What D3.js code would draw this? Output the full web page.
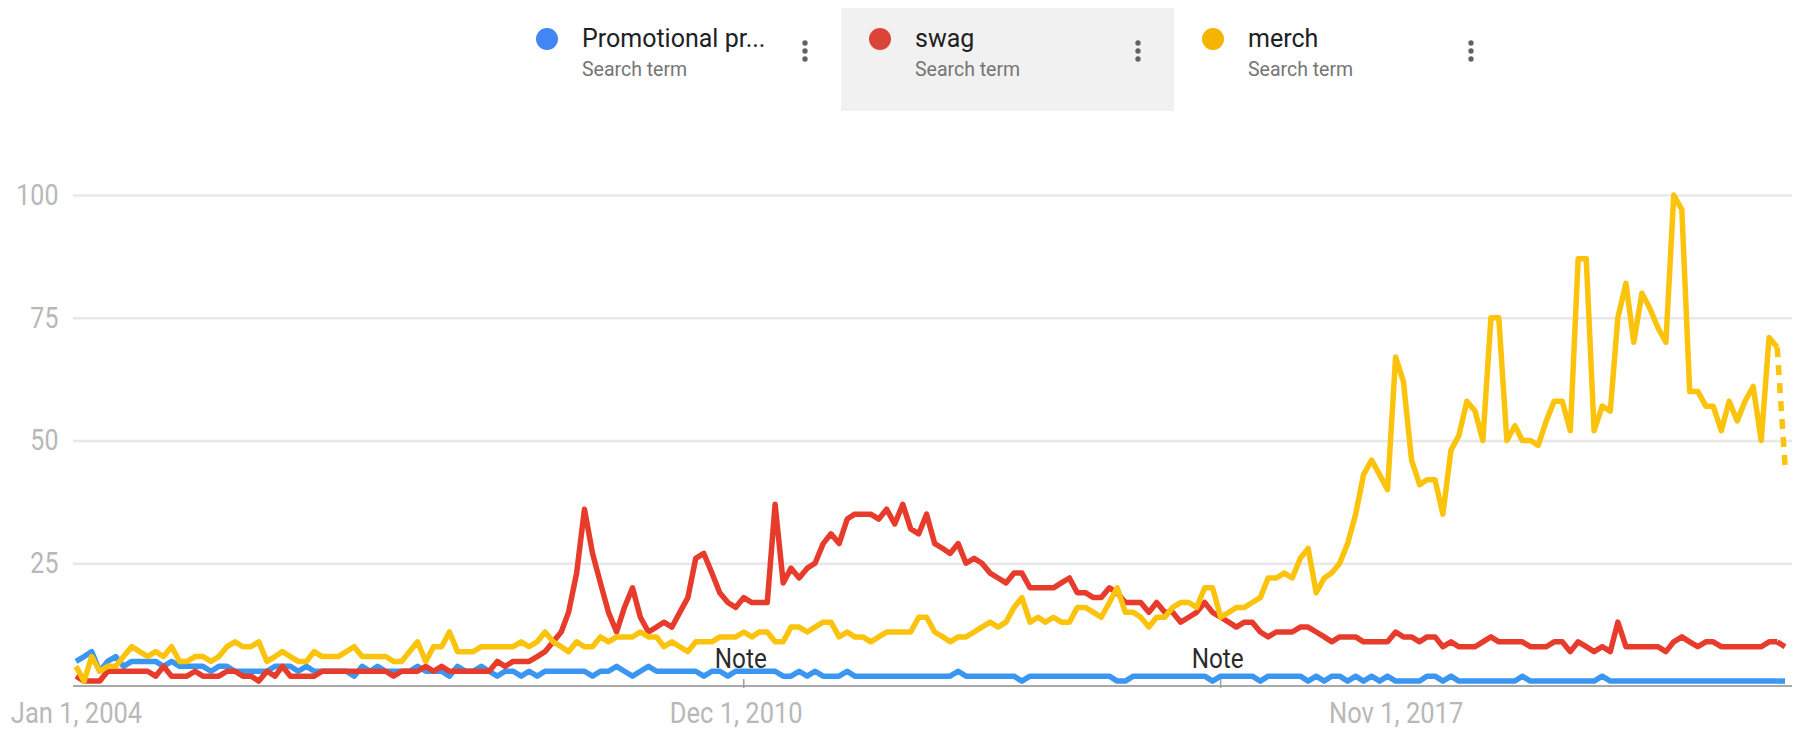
<!DOCTYPE html>
<html>
<head>
<meta charset="utf-8">
<script src="https://cdn.jsdelivr.net/npm/d3@7"></script>
<style>
  body { margin: 0; background: #fff; }
  #chart { width: 1801px; height: 733px; }
  text { font-family: Roboto, "Open Sans", sans-serif; }
</style>
</head>
<body>
<div id="chart"></div>
<script>
// monthly interest, Jan 2004 .. Dec 2021 (last month is partial -> dotted)
var startMonth = new Date(2004, 0, 1);

var seriesNames = ["Promotional pr...", "swag", "merch"];
var seriesSub = "Search term";
var legendColors = ["#4285f4", "#db4437", "#f4b400"];
var lineColors = ["#3b96f2", "#e73b2c", "#fbc30c"];

var promoValues = [
  5,6,7,3,5,6,4,5,5,5,5,4,5,4,4,4,4,3,4,4,3,3,3,3,3,4,4,
  4,3,4,3,3,3,3,3,2,4,3,4,3,3,3,3,4,3,3,3,2,4,3,3,4,3,
  2,3,3,2,3,2,3,3,3,3,3,3,2,3,3,4,3,2,3,4,3,3,3,3,3,3,2,
  3,3,2,3,3,3,3,3,3,2,2,3,2,3,2,2,2,3,2,2,2,2,2,2,2,2,2,2,2,
  2,2,3,2,2,2,2,2,2,2,1,2,2,2,2,2,2,2,2,2,2,2,1,1,2,2,2,2,2,2,2,2,2,2,1,2,
  2,2,2,2,1,2,2,2,2,2,1,2,1,2,2,1,2,1,2,1,2,1,1,1,1,2,2,1,2,1,1,1,1,1,1,1,1,2,1,1,1,1,1,
  1,1,1,1,2,1,1,1,1,1,1,1,1,1,1,1,1,1,1,1,1,1,1,1,1,1,1,1
];

var swagValues = [
  2,1,1,1,3,3,3,3,3,3,2,4,2,2,2,3,2,2,2,3,3,2,2,1,3,2,4,
  2,2,2,2,3,3,3,3,3,3,3,3,3,2,3,3,3,4,3,4,3,3,3,3,3,3,
  5,4,5,5,5,6,7,9,11,15,23,36,27,21,15,11,16,20,14,11,12,13,12,15,18,26,27,
  23,19,17,16,18,17,17,17,37,21,24,22,24,25,29,31,29,34,35,35,35,34,36,33,37,32,31,35,29,
  28,27,29,25,26,25,23,22,21,23,23,20,20,20,20,21,22,19,19,18,18,20,19,17,17,17,15,
  17,15,15,13,14,15,17,15,14,13,12,13,13,11,10,11,11,11,12,12,11,10,9,10,10,10,9,
  9,9,9,11,10,10,9,10,10,8,9,8,8,8,9,10,9,9,9,9,8,8,8,9,9,
  7,9,8,7,8,7,13,8,8,8,8,8,7,9,10,9,8,9,9,8,8,8,8,8,8,9,9,8
];

var merchValues = [
  4,1,6,3,4,4,6,8,7,6,7,6,8,5,5,6,6,5,6,8,9,8,8,9,5,6,7,
  6,5,5,7,6,6,6,7,8,6,6,6,6,5,5,7,9,5,8,8,11,7,7,7,8,8,8,
  8,8,9,8,9,11,9,8,7,9,8,8,10,9,10,10,10,11,10,10,8,9,8,7,9,9,
  9,10,10,10,11,10,11,11,9,9,12,12,11,12,13,13,10,11,10,10,9,10,11,11,11,11,14,14,11,
  10,9,10,10,11,12,13,12,13,16,18,13,14,13,14,13,13,16,16,15,14,17,20,15,15,
  14,12,14,14,16,17,17,16,20,20,14,15,16,16,17,18,22,22,23,22,26,28,19,22,23,25,29,35,
  43,46,43,40,67,62,46,41,42,42,35,48,51,58,56,50,75,75,50,53,50,50,49,54,58,58,52,
  87,87,52,57,56,75,82,70,80,77,73,70,100,97,60,60,57,57,52,58,54,58,61,50,71,69,45
];

var yTicks = [25, 50, 75, 100];
var xTickDates = [new Date(2004, 0, 1), new Date(2010, 11, 1), new Date(2017, 10, 1)];
var xTickLabels = ["Jan 1, 2004", "Dec 1, 2010", "Nov 1, 2017"];
var noteDates = [new Date(2011, 0, 1), new Date(2016, 0, 1)];
var noteText = "Note";

var width = 1801, height = 733;
var plotLeft = 73, plotRight = 1792;

var svg = d3.select("#chart").append("svg")
    .attr("width", width)
    .attr("height", height);

var allSeries = [promoValues, swagValues, merchValues];
var months = promoValues.map(function(d, i) { return d3.timeMonth.offset(startMonth, i); });

var xScale = d3.scaleTime()
    .domain([months[0], months[months.length - 1]])
    .range([76, 1785]);
var yScale = d3.scaleLinear().domain([0, 100]).range([686, 195]);

// ---- legend on top
var legendLeft = [508, 841, 1174];
var legend = svg.append("g").attr("class", "legend");
legend.append("rect")
    .attr("x", legendLeft[1]).attr("y", 8)
    .attr("width", 333).attr("height", 103)
    .attr("fill", "#f1f1f1");

seriesNames.forEach(function(name, i) {
  var g = legend.append("g").attr("transform", "translate(" + legendLeft[i] + ",0)");
  g.append("circle")
    .attr("cx", 39).attr("cy", 39).attr("r", 11)
    .style("fill", legendColors[i]);
  g.append("text")
    .attr("x", 74).attr("y", 47)
    .style("font-size", "25px")
    .attr("fill", "#202124")
    .text(name);
  g.append("text")
    .attr("x", 74).attr("y", 76)
    .style("font-size", "19.5px")
    .attr("fill", "#757575")
    .text(seriesSub);
  [43, 51, 59].forEach(function(cy) {
    g.append("circle")
      .attr("cx", 297).attr("cy", cy).attr("r", 2.7)
      .style("fill", "#5f6368");
  });
});

// y gridlines + labels
var yAxis = d3.axisLeft(yScale)
    .tickValues(yTicks)
    .tickSize(-(plotRight - plotLeft))
    .tickPadding(17);

var yg = svg.append("g")
    .attr("class", "y axis")
    .attr("transform", "translate(" + plotLeft + ",0)")
    .call(yAxis);
yg.select(".domain").remove();
yg.selectAll("line")
    .style("stroke", "#e8e8e8")
    .style("stroke-width", "2.5");
yg.selectAll("text")
    .style("font-size", "29px")
    .attr("fill", "#b8b8b8")
    .attr("transform", "scale(0.86,1)");

// baseline
svg.append("line")
    .attr("x1", plotLeft).attr("x2", plotRight)
    .attr("y1", yScale(0)).attr("y2", yScale(0))
    .style("stroke", "#a9a9a9")
    .style("stroke-width", "2");

// x axis labels
var xAxis = d3.axisBottom(xScale)
    .tickValues(xTickDates)
    .tickFormat(function(d, i) { return xTickLabels[i]; })
    .tickSize(0)
    .tickPadding(16);

var xg = svg.append("g")
    .attr("class", "x axis")
    .attr("transform", "translate(0," + yScale(0) + ")")
    .call(xAxis);
xg.select(".domain").remove();
xg.selectAll("text")
    .style("font-size", "30px")
    .attr("fill", "#b8b8b8")
    .attr("transform", "scale(0.85,1)");

// notes
noteDates.forEach(function(d) {
  var nx = xScale(d);
  svg.append("line")
    .attr("x1", nx).attr("x2", nx)
    .attr("y1", yScale(0) - 7).attr("y2", yScale(0) + 2)
    .style("stroke", "#9e9e9e")
    .style("stroke-width", "1.5");
  svg.append("text")
    .attr("x", nx - 3).attr("y", 668)
    .attr("text-anchor", "middle")
    .style("font-size", "27px")
    .attr("fill", "#2b2b2b")
    .attr("transform", "translate(" + (nx - 3) * 0.1 + ",0) scale(0.9,1)")
    .text(noteText);
});

// the lines - last month drawn dotted
var valueline = d3.line()
    .x(function(d) { return xScale(d.date); })
    .y(function(d) { return yScale(d.value); });

allSeries.forEach(function(vals, i) {
  var data = vals.map(function(v, j) { return {date: months[j], value: v}; });
  var n = data.length;
  svg.append("path")
    .datum(data.slice(0, n - 1))
    .attr("class", "line")
    .attr("fill", "none")
    .style("stroke", lineColors[i])
    .style("stroke-width", "5.5")
    .style("stroke-linejoin", "round")
    .attr("d", valueline);
  svg.append("path")
    .datum(data.slice(n - 2))
    .attr("fill", "none")
    .style("stroke", lineColors[i])
    .style("stroke-width", "5.5")
    .style("stroke-dasharray", "10,8")
    .attr("d", valueline);
});
</script>
</body>
</html>
